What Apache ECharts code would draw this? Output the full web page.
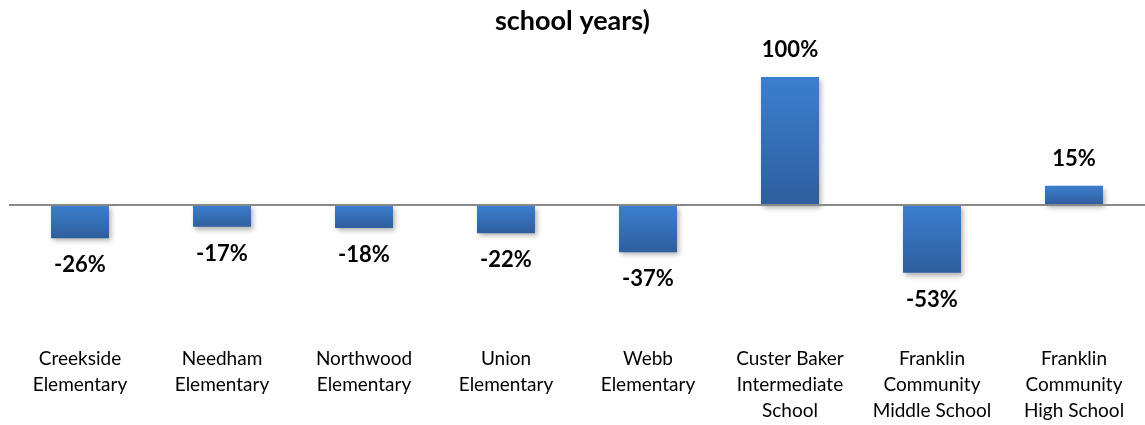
<!DOCTYPE html>
<html><head><meta charset="utf-8">
<script src="https://cdn.jsdelivr.net/npm/echarts@6/dist/echarts.min.js"></script>
<style>html,body{margin:0;padding:0;background:#fff}#c{width:1145px;height:425px}</style>
</head><body><div id="c"></div>
<script>
const titleText = 'school years)';
const categories = ['Creekside\nElementary','Needham\nElementary','Northwood\nElementary','Union\nElementary','Webb\nElementary','Custer Baker\nIntermediate\nSchool','Franklin\nCommunity\nMiddle School','Franklin\nCommunity\nHigh School'];
const values = [-26, -17, -18, -22, -37, 100, -53, 15];

const FONT = 'Lato, "Open Sans", sans-serif';
const chart = echarts.init(document.getElementById('c'), null, {renderer:'canvas'});
const data = values.map(v => ({
  value: v,
  label: { position: v >= 0 ? 'top' : 'bottom' }
}));
chart.setOption({
  animation: false,
  title: { text: titleText, left: 'center', top: 3,
    textStyle: { fontFamily: FONT, fontWeight: 'bold', fontSize: 27, color: '#000' } },
  grid: { left: 9, right: -6, top: 77, bottom: 92, containLabel: false },
  xAxis: { type: 'category', data: categories, position: 'bottom',
    axisLine: { show: false, onZero: false }, axisTick: { show: false },
    axisLabel: { interval: 0, margin: 13, fontFamily: FONT, fontSize: 19, lineHeight: 26, color: '#000', verticalAlign: 'top' } },
  yAxis: { type: 'value', min: -100, max: 100, show: false, splitLine: { show: false } },
  series: [{
    type: 'bar', data: data, barWidth: 58,
    itemStyle: {
      color: new echarts.graphic.LinearGradient(0, 0, 0, 1, [
        { offset: 0, color: '#3c7fce' }, { offset: 1, color: '#2e5e9d' }
      ]),
      shadowBlur: 5, shadowOffsetX: 2, shadowOffsetY: 3, shadowColor: 'rgba(0,0,0,0.3)'
    },
    label: { show: true, formatter: p => p.value + '%', distance: 16,
      fontFamily: FONT, fontWeight: 'bold', fontSize: 22, color: '#000' },
    markLine: { silent: true, symbol: 'none', label: { show: false },
      lineStyle: { color: '#898989', width: 2, type: 'solid' },
      data: [{ yAxis: 0 }] }
  }]
});
</script></body></html>
